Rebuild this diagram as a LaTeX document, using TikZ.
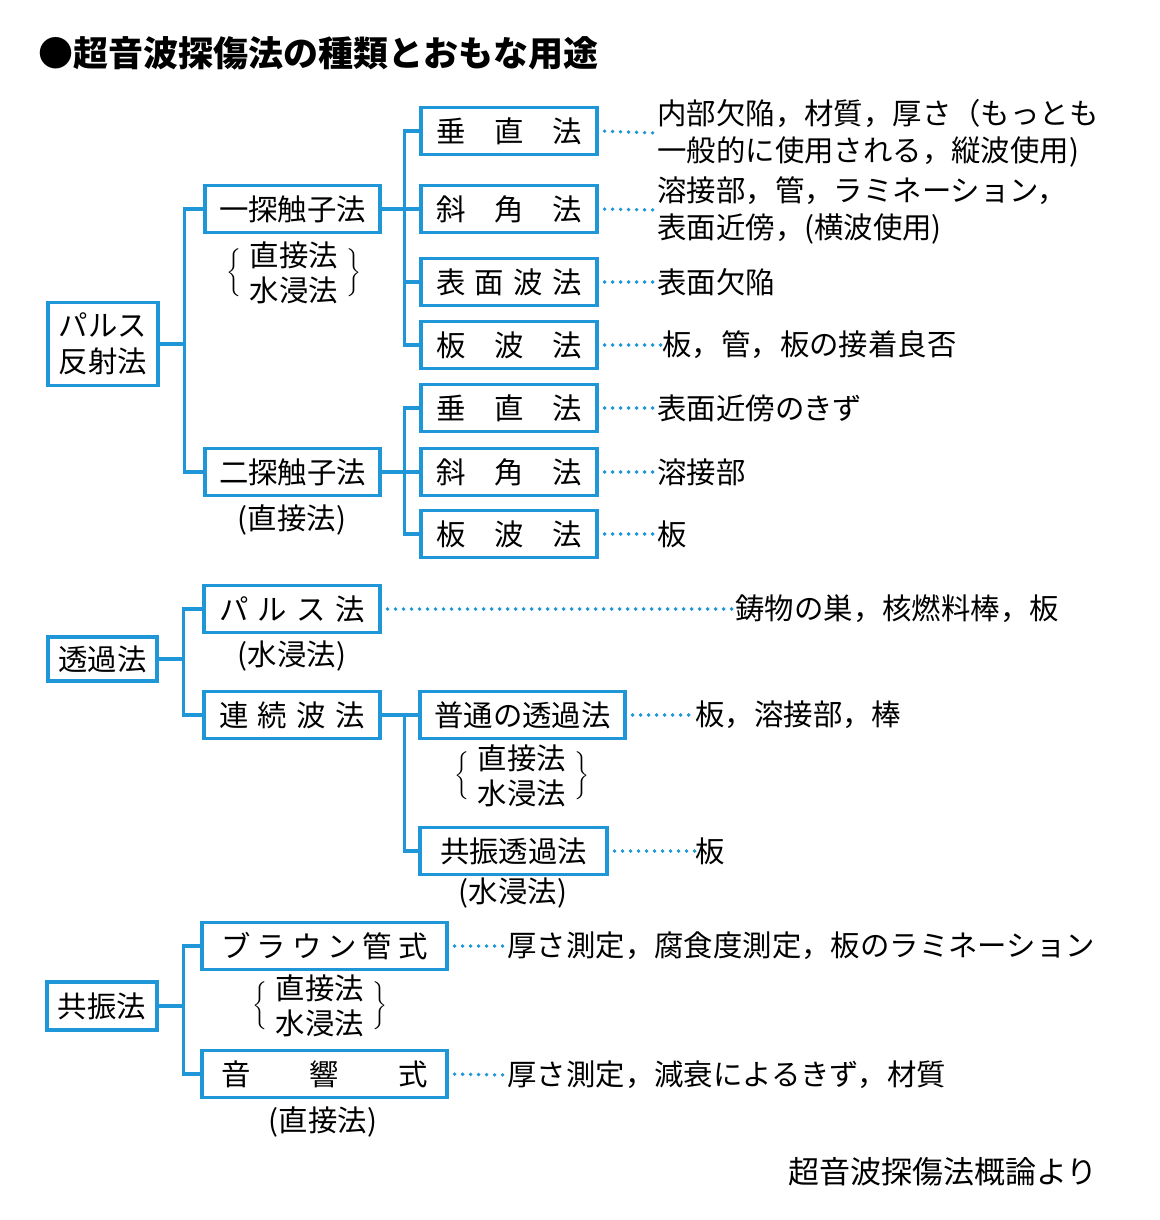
\documentclass[tikz,border=0pt]{standalone}
\usepackage{fontspec}
\setmainfont{Noto Sans CJK JP}
\usepackage{tikz}
\definecolor{tblue}{RGB}{30,150,215}
\newcommand{\jpsize}{\fontsize{14.7}{18.5}\selectfont}
\newcommand{\spread}[2]{\makebox[#1]{#2}}
\newcommand{\bracegroup}{\renewcommand{\arraystretch}{0.95}%
  $\bigg\{\mbox{\hspace{4pt}\raisebox{-2pt}{\begin{tabular}{@{}c@{}}直接法\\水浸法\end{tabular}}\hspace{4pt}}\bigg\}$}

\begin{document}
\begin{tikzpicture}[x=0.5pt, y=-0.5pt,
  box/.style={draw=tblue, line width=1.6pt, minimum height=23.5pt, inner sep=0pt, font=\jpsize},
  link/.style={tblue, line width=1.6pt},
  dots/.style={tblue, line width=1.9pt, line cap=round, dash pattern=on 0pt off 4pt, shorten <=3pt},
  note/.style={anchor=west, align=left, inner sep=0pt, font=\jpsize},
  sub/.style={inner sep=0pt, font=\jpsize}]
\useasboundingbox (0,0) rectangle (1160,1220);

\node[anchor=west, inner sep=0pt, font=\fontsize{17.5}{20}\selectfont\bfseries] (title) at (38,53) {●超音波探傷法の種類とおもな用途};

% pulse reflection
\node[box, minimum width=55pt, minimum height=41.5pt, align=center, font=\fontsize{14.7}{18}\selectfont] (pulse) at (103,344) {パルス\\反射法};
\node[box, minimum width=87.5pt] (single) at (292.5,209) {一探触子法};
\node[box, minimum width=87.5pt] (double) at (292.5,472) {二探触子法};
\node[sub] (singlesub) at (294,277) {\bracegroup};
\node[sub] (doublesub) at (292,520) {(直接法)};

\node[box, minimum width=88pt] (sv) at (509,131) {\spread{73pt}{垂\hfill 直\hfill 法}};
\node[box, minimum width=88pt] (sa) at (509,209) {\spread{73pt}{斜\hfill 角\hfill 法}};
\node[box, minimum width=88pt] (ss) at (509,282) {\spread{73pt}{表\hfill 面\hfill 波\hfill 法}};
\node[box, minimum width=88pt] (sp) at (509,345) {\spread{73pt}{板\hfill 波\hfill 法}};
\node[box, minimum width=88pt] (dv) at (509,408) {\spread{73pt}{垂\hfill 直\hfill 法}};
\node[box, minimum width=88pt] (da) at (509,472) {\spread{73pt}{斜\hfill 角\hfill 法}};
\node[box, minimum width=88pt] (dp) at (509,534) {\spread{73pt}{板\hfill 波\hfill 法}};

\draw[link] (pulse.east) -- ++(25,0) coordinate (jp);
\draw[link] (jp) |- (single.west);
\draw[link] (jp) |- (double.west);
\draw[link] (single.east) -- ++(23,0) coordinate (js);
\foreach \n in {sv,sa,ss,sp} \draw[link] (js) |- (\n.west);
\draw[link] (double.east) -- ++(23,0) coordinate (jd);
\foreach \n in {dv,da,dp} \draw[link] (jd) |- (\n.west);

\node[note] (nsv) at (657,133) {内部欠陥，材質，厚さ（もっとも\\一般的に使用される，縦波使用)};
\node[note] (nsa) at (657,210) {溶接部，管，ラミネーション，\\表面近傍，(横波使用)};
\node[note] (nss) at (657,282) {表面欠陥};
\node[note] (nsp) at (662,345) {板，管，板の接着良否};
\node[note] (ndv) at (657,408) {表面近傍のきず};
\node[note] (nda) at (657,472) {溶接部};
\node[note] (ndp) at (657,534) {板};
\foreach \n in {sv,sa,ss,sp,dv,da,dp} \draw[dots] (\n.east) -- (n\n.west);

% transmission
\node[box, minimum width=54.5pt, minimum height=22pt] (trans) at (102.5,659) {透過法};
\node[box, minimum width=88pt] (tpulse) at (292,609) {\spread{73pt}{パ\hfill ル\hfill ス\hfill 法}};
\node[box, minimum width=88pt] (tcont) at (292,715) {\spread{73pt}{連\hfill 続\hfill 波\hfill 法}};
\node[sub] (tpulsesub) at (292,656) {(水浸法)};
\node[box, minimum width=102.5pt] (tnorm) at (522.5,715) {普通の透過法};
\node[box, minimum width=93.5pt] (tres) at (513.5,851) {共振透過法};
\node[sub] (tnormsub) at (522,780) {\bracegroup};
\node[sub] (tressub) at (513,893) {(水浸法)};

\draw[link] (trans.east) -- ++(25,0) coordinate (jt);
\draw[link] (jt) |- (tpulse.west);
\draw[link] (jt) |- (tcont.west);
\draw[link] (tcont.east) -- ++(23,0) coordinate (jc);
\draw[link] (jc) |- (tnorm.west);
\draw[link] (jc) |- (tres.west);

\node[note] (ntpulse) at (735,609) {鋳物の巣，核燃料棒，板};
\node[note] (ntnorm) at (695,715) {板，溶接部，棒};
\node[note] (ntres) at (695,851) {板};
\foreach \n in {tpulse,tnorm,tres} \draw[dots] (\n.east) -- (n\n.west);

% resonance
\node[box, minimum width=55pt, minimum height=24pt] (reso) at (102,1006) {共振法};
\node[box, minimum width=122.5pt] (braun) at (324.5,946) {\spread{103pt}{ブ\hfill ラ\hfill ウ\hfill ン\hfill 管\hfill 式}};
\node[box, minimum width=122.5pt] (acou) at (324.5,1074) {\spread{103pt}{音\hfill 響\hfill 式}};
\node[sub] (braunsub) at (320,1010) {\bracegroup};
\node[sub] (acousub) at (323,1122) {(直接法)};

\draw[link] (reso.east) -- ++(25,0) coordinate (jr);
\draw[link] (jr) |- (braun.west);
\draw[link] (jr) |- (acou.west);

\node[note] (nbraun) at (507,946) {厚さ測定，腐食度測定，板のラミネーション};
\node[note] (nacou) at (507,1075) {厚さ測定，減衰によるきず，材質};
\foreach \n in {braun,acou} \draw[dots] (\n.east) -- (n\n.west);

\node[anchor=east, inner sep=0pt, font=\fontsize{15.5}{18}\selectfont] (source) at (1098,1172) {超音波探傷法概論より};
\end{tikzpicture}
\end{document}
